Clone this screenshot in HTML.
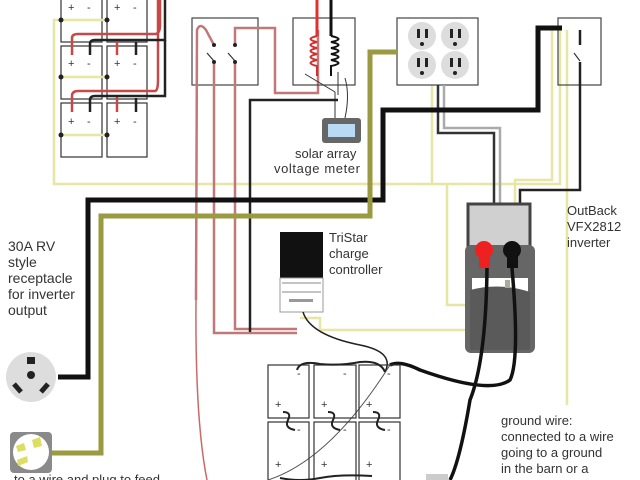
<!DOCTYPE html>
<html><head><meta charset="utf-8"><style>
html,body{margin:0;padding:0;background:#fff;}
svg{display:block;font-family:"Liberation Sans",sans-serif;}
</style></head><body>
<svg width="640" height="480" viewBox="0 0 640 480" xmlns="http://www.w3.org/2000/svg">
<rect width="640" height="480" fill="#fff"/>
<!-- top-left batteries -->
<g fill="none" stroke="#333" stroke-width="1.2">
<rect x="61" y="-5" width="41" height="47"/><rect x="107" y="-5" width="40" height="47"/>
<rect x="61" y="46" width="41" height="53"/><rect x="107" y="46" width="40" height="53"/>
<rect x="61" y="103" width="41" height="54"/><rect x="107" y="103" width="40" height="54"/>
</g>
<g font-size="11" fill="#333">
<text x="68" y="11">+</text><text x="87" y="11">-</text><text x="114" y="11">+</text><text x="133" y="11">-</text>
<text x="68" y="67">+</text><text x="87" y="67">-</text><text x="114" y="67">+</text><text x="133" y="67">-</text>
<text x="68" y="125">+</text><text x="87" y="125">-</text><text x="114" y="125">+</text><text x="133" y="125">-</text>
</g>
<!-- yellow thin wires -->
<g fill="none" stroke="#e8e6a4" stroke-width="2.5">
<path d="M107 20 H54 V184 H560 V28"/>
<path d="M61 77 H107 M61 135 H107"/>
<path d="M432 85 V184"/>
<path d="M567 30 V405"/>
<path d="M552 30 V180 H515 V210"/>
<path d="M447 184 V305 H517 V285"/>
<path d="M300 318 H320 V330 H508 V285"/>
</g>
<g fill="#222"><circle cx="61" cy="20" r="2.5"/><circle cx="107" cy="20" r="2.5"/><circle cx="61" cy="77" r="2.5"/><circle cx="107" cy="77" r="2.5"/><circle cx="61" cy="135" r="2.5"/><circle cx="107" cy="135" r="2.5"/></g>
<!-- battery jumpers -->
<g fill="none" stroke="#c84848" stroke-width="2.5">
<path d="M72 55 V38 Q72 34 78 34 H155 Q160 34 160 25 V0"/>
<path d="M117 55 V40 M72 112 V96 Q72 91 78 91 H155 Q158 91 158 80 V0"/>
<path d="M117 112 V95"/>
</g>
<g fill="none" stroke="#222" stroke-width="2.5">
<path d="M90 55 V44 Q90 40 95 40 H165 V0"/>
<path d="M136 55 V42 M90 112 V100 Q90 96 95 96 H165 V40"/>
<path d="M136 112 V98"/>
</g>
<!-- switch box -->
<rect x="192" y="18" width="66" height="67" fill="none" stroke="#444" stroke-width="1.2"/>
<g fill="none" stroke="#c07878" stroke-width="2.5">
<path d="M196 300 Q196 200 197 30 Q200 22 206 30 L214 45"/>
<path d="M214 62 V333 H297"/>
<path d="M235 62 V329 H297"/>
<path d="M235 45 V28 H275 V93 H318 V30"/>
</g>
<path d="M207 53 L214 61 M228 53 L235 61" stroke="#333" stroke-width="1.2"/>
<g fill="#222"><circle cx="214" cy="45" r="2"/><circle cx="214" cy="62" r="2"/><circle cx="235" cy="45" r="2"/><circle cx="235" cy="62" r="2"/></g>
<path d="M196 300 Q195 420 207 480" stroke="#c86a6a" stroke-width="1.5" fill="none"/>
<!-- meter box -->
<rect x="293" y="18" width="62" height="67" fill="none" stroke="#444" stroke-width="1.2"/>
<path d="M317 0 V36" stroke="#e03030" stroke-width="3"/>
<path d="M331 0 V36" stroke="#111" stroke-width="3"/>
<g fill="none" stroke-width="2">
<path d="M317 36 Q304 39 317 42 Q304 45 317 48 Q304 51 317 54 Q304 57 317 60 Q304 63 317 66 V76" stroke="#d03030"/>
<path d="M331 36 Q346 39 331 42 Q346 45 331 48 Q346 51 331 54 Q346 57 331 60 Q346 63 331 66 V76" stroke="#111"/></g>
<path d="M305 74 L335 92 L335 118 M345 78 Q350 95 345 118 M338 72 V95" stroke="#333" fill="none" stroke-width="1"/>
<path d="M250 332 V100 H338" stroke="#222" stroke-width="2.5" fill="none"/>
<rect x="322" y="118" width="39" height="25" rx="3" fill="#666"/>
<rect x="328" y="124" width="27" height="13" fill="#b8daf4"/>
<text x="295" y="158" font-size="13" fill="#333">solar array</text>
<text x="274" y="173" font-size="13" fill="#333" letter-spacing="0.6">voltage meter</text>
<!-- outlet box -->
<rect x="397" y="18" width="81" height="67" fill="#fff" stroke="#444" stroke-width="1.2"/>
<g fill="#ddd"><circle cx="422" cy="36" r="14"/><circle cx="455" cy="36" r="14"/><circle cx="422" cy="65" r="14"/><circle cx="455" cy="65" r="14"/></g>
<g fill="#222">
<rect x="417" y="29" width="3" height="9"/><rect x="425" y="29" width="3" height="9"/><rect x="450" y="29" width="3" height="9"/><rect x="458" y="29" width="3" height="9"/>
<rect x="417" y="58" width="3" height="9"/><rect x="425" y="58" width="3" height="9"/><rect x="450" y="58" width="3" height="9"/><rect x="458" y="58" width="3" height="9"/>
<circle cx="422" cy="44" r="2"/><circle cx="455" cy="44" r="2"/><circle cx="422" cy="73" r="2"/><circle cx="455" cy="73" r="2"/></g>
<path d="M438 85 V133 H494 V245" stroke="#333" stroke-width="2.5" fill="none"/>
<path d="M444 85 V128 H500 V245" stroke="#aaa" stroke-width="2.5" fill="none"/>
<!-- right switch -->
<rect x="558" y="18" width="43" height="67" fill="none" stroke="#444" stroke-width="1.2"/>
<path d="M580 30 V45 M580 62 V190 H520 V245" stroke="#222" stroke-width="2.5" fill="none"/>
<path d="M574 53 L580 61" stroke="#333" stroke-width="1.2"/>
<!-- thick black main -->
<path d="M58 377 H88 V200 H383 V110 H538 V28 H562" stroke="#111" stroke-width="5" fill="none"/>
<!-- olive -->
<path d="M50 453 H101 V216 H370 V52 H397" stroke="#9a9a40" stroke-width="5" fill="none"/>
<!-- TriStar -->
<rect x="280" y="232" width="43" height="46" fill="#111"/>
<rect x="280" y="278" width="43" height="34" fill="#fff" stroke="#999" stroke-width="1"/>
<path d="M282 283 H321 M282 292 H321" stroke="#888"/>
<rect x="289" y="299" width="24" height="3" fill="#999"/>
<text x="329" y="242" font-size="13" fill="#333">TriStar</text>
<text x="329" y="258" font-size="13" fill="#333">charge</text>
<text x="329" y="274" font-size="13" fill="#333">controller</text>
<path d="M303 312 Q310 335 360 345 Q395 352 385 372" stroke="#222" stroke-width="1.5" fill="none"/>
<!-- inverter -->
<rect x="468" y="204" width="62" height="50" fill="#d0d0d0" stroke="#444" stroke-width="3"/>
<rect x="465" y="245" width="70" height="108" rx="6" fill="#666"/>
<rect x="472" y="278" width="56" height="22" fill="#fff"/>
<path d="M470 290 Q500 282 530 292 V350 H470 Z" fill="#5a5a5a"/>
<circle cx="484" cy="250" r="9" fill="#ee2020"/><rect x="479" y="252" width="11" height="16" fill="#ee2020"/>
<circle cx="512" cy="250" r="9" fill="#111"/><rect x="507" y="252" width="11" height="16" fill="#111"/>
<rect x="505" y="280" width="5" height="8" fill="#aa9"/>
<path d="M487 268 Q486 360 470 400 Q460 460 450 480" stroke="#111" stroke-width="3.5" fill="none"/>
<path d="M512 268 Q520 360 510 380 Q490 395 420 370 Q400 360 390 365" stroke="#111" stroke-width="3.5" fill="none"/>
<path d="M268 480 Q330 460 390 365" stroke="#555" stroke-width="1" fill="none"/>
<text x="567" y="215" font-size="13" fill="#333">OutBack</text>
<text x="567" y="231" font-size="13" fill="#333">VFX2812</text>
<text x="567" y="247" font-size="13" fill="#333">inverter</text>
<!-- bottom batteries -->
<g fill="none" stroke="#333" stroke-width="1.2">
<rect x="268" y="365" width="41" height="53"/><rect x="314" y="365" width="42" height="53"/><rect x="359" y="365" width="41" height="53"/>
<rect x="268" y="422" width="41" height="62"/><rect x="314" y="422" width="42" height="62"/><rect x="359" y="422" width="41" height="62"/>
</g>
<g font-size="11" fill="#333">
<text x="297" y="377">-</text><text x="343" y="377">-</text><text x="387" y="377">-</text>
<text x="275" y="408">+</text><text x="321" y="408">+</text><text x="366" y="408">+</text>
<text x="297" y="433">-</text><text x="343" y="433">-</text><text x="387" y="433">-</text>
<text x="275" y="468">+</text><text x="321" y="468">+</text><text x="366" y="468">+</text>
</g>
<g fill="none" stroke="#222" stroke-width="2">
<path d="M283 412 Q292 412 288 420 Q284 428 295 430 M328 412 Q337 412 333 420 Q329 428 340 430 M373 412 Q382 412 378 420 Q374 428 385 430"/>
<path d="M297 370 Q300 360 320 364 Q340 366 360 362 Q380 360 385 372"/>
<path d="M280 478 Q300 482 320 478 Q340 474 372 476"/>
</g>
<!-- RV receptacle -->
<text font-size="14" fill="#333"><tspan x="8" y="251">30A RV</tspan><tspan x="8" y="267">style</tspan><tspan x="8" y="283">receptacle</tspan><tspan x="8" y="299">for inverter</tspan><tspan x="8" y="315">output</tspan></text>
<circle cx="31" cy="377" r="25" fill="#ddd"/>
<rect x="27" y="357" width="8" height="7" fill="#222"/>
<circle cx="31" cy="375" r="4" fill="#222"/>
<path d="M14 384 L21 392 M48 384 L41 392" stroke="#222" stroke-width="5"/>
<rect x="10" y="432" width="42" height="41" rx="4" fill="#8a8a8a"/>
<circle cx="31" cy="452" r="18" fill="#fff"/>
<path d="M16 446 L24 443 L26 450 L18 452Z M32 440 L40 437 L42 446 L34 448Z M17 460 L27 456 L28 462 L18 466Z" fill="#dddd60"/>
<text x="14" y="484" font-size="13" fill="#333">to a wire and plug to feed</text>
<!-- ground text -->
<text font-size="13" fill="#333"><tspan x="501" y="425">ground wire:</tspan><tspan x="501" y="441">connected to a wire</tspan><tspan x="501" y="457">going to a ground</tspan><tspan x="501" y="473">in the barn or a</tspan></text>
<rect x="426" y="474" width="22" height="8" fill="#ccc"/>
</svg>
</body></html>
